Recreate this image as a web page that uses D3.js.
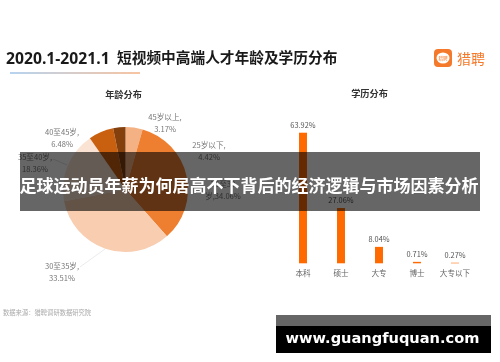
<!DOCTYPE html>
<html>
<head>
<meta charset="utf-8">
<title>短视频中高端人才年龄及学历分布</title>
<style>
    html, body { margin: 0; padding: 0; background: #fff; }
    svg { display: block; font-family: "Noto Sans CJK SC", "Noto Sans", sans-serif; }
    #chart { filter: blur(0.35px); }
</style>
<script src="https://d3js.org/d3.v7.min.js"></script>
</head>
<body>
<svg id="root" width="500" height="362"></svg>
<script>
var ageNames = ["25岁以下", "25至30岁", "30至35岁", "35至40岁", "40至45岁", "45岁以上"];
var ageValues = [4.42, 34.06, 33.51, 18.36, 6.48, 3.17];
var ageColors = ["#f4b183", "#ee7f30", "#f8cdb0", "#fbe3d4", "#c9600f", "#84400c"];

var eduNames = ["本科", "硕士", "大专", "博士", "大专以下"];
var eduValues = [63.92, 27.06, 8.04, 0.71, 0.27];

var titleDate = "2020.1-2021.1";
var titleText = "短视频中高端人才年龄及学历分布";
var sourceText = "数据来源：猎聘调研数据研究院";
var bannerText = "足球运动员年薪为何居高不下背后的经济逻辑与市场因素分析";
var siteText = "www.guangfuquan.com";

// where each pie label sits, in the same order as ageNames
var ageLabelPos = [[209, 145], [223, 184], [62, 266], [35, 157], [62, 132], [165, 117]];

var svg = d3.select("#root");
var chart = svg.append("g").attr("id", "chart");

var defs = svg.append("defs");
var grad = defs.append("linearGradient").attr("id", "rule");
grad.append("stop").attr("offset", "0%").attr("stop-color", "#6fa8e0");
grad.append("stop").attr("offset", "100%").attr("stop-color", "#f08a45");

chart.append("text").attr("x", 6).attr("y", 63.5)
    .attr("font-family", "'Open Sans', sans-serif")
    .attr("font-size", 15.7).attr("font-weight", 700).attr("fill", "#1a1a1a")
    .text(titleDate);
chart.append("text").attr("x", 117).attr("y", 63)
    .attr("font-size", 14.7).attr("font-weight", 700).attr("fill", "#1a1a1a")
    .text(titleText);
chart.append("rect").attr("x", 10).attr("y", 72.5).attr("width", 130).attr("height", 1)
    .attr("fill", "url(#rule)");

// logo
var logo = chart.append("g").attr("transform", "translate(434,49)");
logo.append("rect").attr("width", 18).attr("height", 18).attr("rx", 4).attr("fill", "#f5792a");
logo.append("ellipse").attr("cx", 9).attr("cy", 9).attr("rx", 6.5).attr("ry", 5.5).attr("fill", "#fff");
logo.append("text").attr("x", 9).attr("y", 10.8).attr("text-anchor", "middle")
    .attr("font-size", 4.6).attr("fill", "#f5792a").text("猎聘");
chart.append("text").attr("x", 457).attr("y", 64)
    .attr("font-size", 14).attr("fill", "#f5792a").text("猎聘");

chart.append("text").attr("x", 123.5).attr("y", 98.3).attr("text-anchor", "middle")
    .attr("font-size", 9.2).attr("font-weight", 700).attr("fill", "#333").text("年龄分布");
chart.append("text").attr("x", 369.5).attr("y", 96.8).attr("text-anchor", "middle")
    .attr("font-size", 9.2).attr("font-weight", 700).attr("fill", "#333").text("学历分布");

// pie
var pie = d3.pie().sort(null).value(function(d) { return d; });
var arc = d3.arc().innerRadius(0).outerRadius(62.5);
var pieG = chart.append("g").attr("transform", "translate(125.5,189.5)");
pieG.selectAll("path")
    .data(pie(ageValues))
    .enter().append("path")
    .attr("d", arc)
    .attr("fill", function(d, i) { return ageColors[i]; });

// leader lines
var line = d3.line();
chart.append("path").attr("d", line([[53, 159], [67, 165]]))
    .attr("fill", "none").attr("stroke", "#ccc").attr("stroke-width", 0.6);
chart.append("path").attr("d", line([[80, 267], [105, 249]]))
    .attr("fill", "none").attr("stroke", "#ddd").attr("stroke-width", 0.6);

var ageLabels = chart.append("g").attr("font-size", 7.6).attr("fill", "#777").attr("text-anchor", "middle");
ageNames.forEach(function(name, i) {
    var p = ageLabelPos[i];
    if (i === 1) {
        ageLabels.append("text").attr("x", p[0]).attr("y", p[1] + 2.5).text("25至30");
        ageLabels.append("text").attr("x", p[0]).attr("y", p[1] + 15).text("岁," + ageValues[i].toFixed(2) + "%");
    } else {
        ageLabels.append("text").attr("x", p[0]).attr("y", p[1] + 2.5).text(name + ",");
        ageLabels.append("text").attr("x", p[0]).attr("y", p[1] + 15).text(ageValues[i].toFixed(2) + "%");
    }
});

// bars
var x = d3.scaleBand().domain(eduNames).range([284, 474]).paddingInner(0.79).paddingOuter(0.395);
var y = d3.scaleLinear().domain([0, 63.92]).range([263.3, 132.7]);

chart.selectAll(".bar")
    .data(eduValues)
    .enter().append("rect")
    .attr("class", "bar")
    .attr("x", function(d, i) { return x(eduNames[i]); })
    .attr("width", x.bandwidth())
    .attr("y", function(d) { return y(d); })
    .attr("height", function(d) { return y(0) - y(d); })
    .attr("fill", "#ff6a00");

chart.selectAll(".bar-label")
    .data(eduValues)
    .enter().append("text")
    .attr("class", "bar-label")
    .attr("x", function(d, i) { return x(eduNames[i]) + x.bandwidth() / 2; })
    .attr("y", function(d) { return y(d) - 5; })
    .attr("text-anchor", "middle")
    .attr("font-size", 7.4)
    .attr("fill", "#555")
    .text(function(d) { return d.toFixed(2) + "%"; });

var xAxis = chart.append("g")
    .attr("transform", "translate(0,263.3)")
    .call(d3.axisBottom(x).tickSize(0).tickPadding(7));
xAxis.select(".domain").remove();
xAxis.selectAll("text").attr("font-size", 7.6).attr("fill", "#666")
    .attr("font-family", "'Noto Sans CJK SC', sans-serif");

chart.append("text").attr("x", 3).attr("y", 315)
    .attr("font-size", 6.3).attr("fill", "#aaa").text(sourceText);

// overlays
svg.append("rect").attr("x", 20).attr("y", 152).attr("width", 460).attr("height", 59)
    .attr("fill", "#000").attr("fill-opacity", 0.6);
svg.append("text").attr("x", 249).attr("y", 192).attr("text-anchor", "middle")
    .attr("font-size", 17).attr("font-weight", 700).attr("fill", "#fff").text(bannerText);

svg.append("rect").attr("x", 276).attr("y", 315).attr("width", 215).attr("height", 11)
    .attr("fill", "#000").attr("fill-opacity", 0.6);
svg.append("rect").attr("x", 276).attr("y", 326).attr("width", 215).attr("height", 27)
    .attr("fill", "#000");
svg.append("text").attr("x", 382.5).attr("y", 342.5).attr("text-anchor", "middle")
    .attr("font-family", "'DejaVu Sans', sans-serif")
    .attr("font-size", 14.6).attr("font-weight", 700).attr("fill", "#fff").text(siteText);
</script>
</body>
</html>
